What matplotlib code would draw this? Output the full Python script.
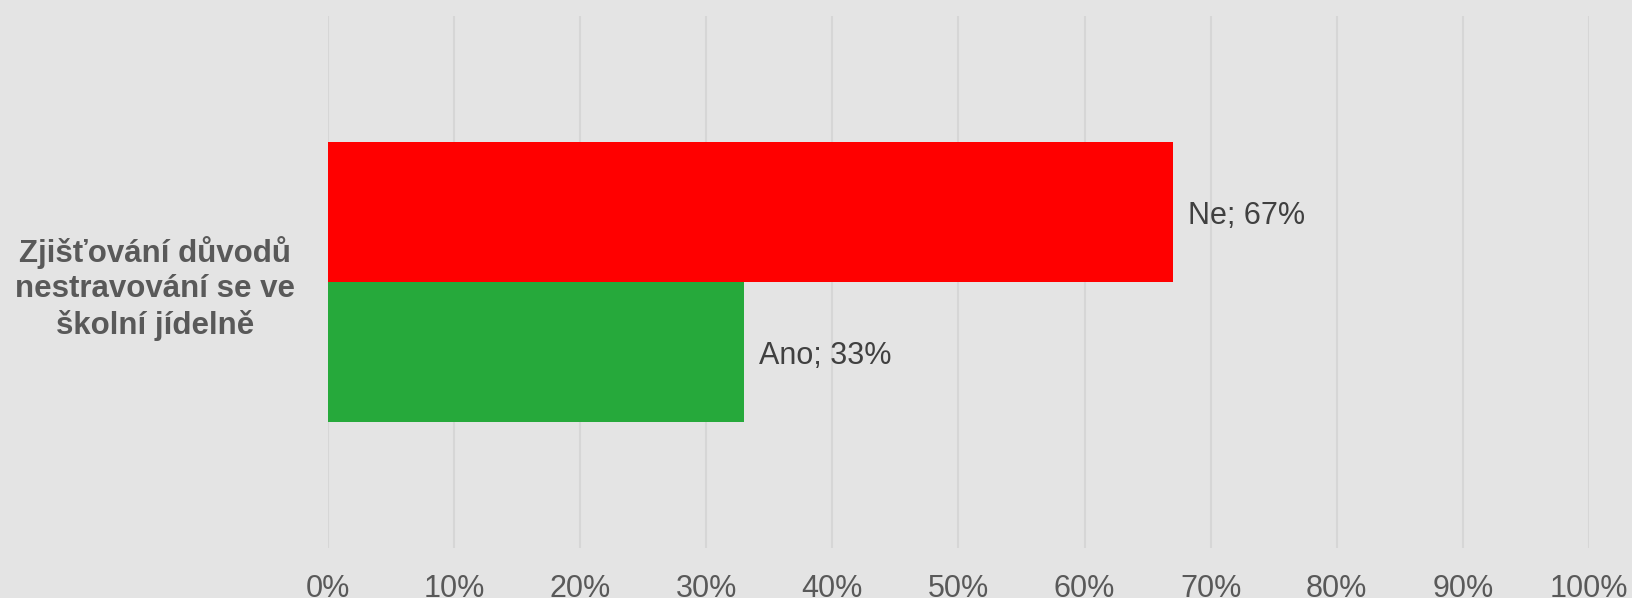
import matplotlib.pyplot as plt
import numpy as np

plt.rcParams['font.family'] = ['Liberation Sans', 'DejaVu Sans']

category = 'Zjišťování důvodů\nnestravování se ve\nškolní jídelně'
series = ['Ne', 'Ano']
values = [67, 33]
colors = ['#ff0000', '#26a93b']
xticks = np.arange(0, 101, 10)

fig = plt.figure(figsize=(16.32, 5.98), dpi=100, facecolor='#e4e4e4')
ax = fig.add_axes([0.201, 0.0836, 0.7726, 0.8896], facecolor='#e4e4e4')

h = 0.5
offsets = [h / 2, -h / 2]
for name, v, c, off in zip(series, values, colors, offsets):
    ax.barh(off, v, height=h, color=c, zorder=3)
    ax.text(v + 1.2, off, '%s; %d%%' % (name, v), va='center_baseline', ha='left',
            fontsize=22, color='#404040')

ax.set_xlim(0, 100)
ax.set_ylim(-0.95, 0.95)
ax.set_xticks(xticks)
ax.set_xticklabels(['%d%%' % t for t in xticks], fontsize=22, color='#595959')
ax.set_yticks([0])
ax.set_yticklabels([category], fontsize=22.5, fontweight='bold', color='#595959',
                   multialignment='center', linespacing=1.24)
ax.tick_params(axis='x', length=0, pad=19)
ax.tick_params(axis='y', length=0, pad=24)
ax.grid(axis='x', color='#d6d6d6', linewidth=1.5, zorder=0)
for s in ax.spines.values():
    s.set_visible(False)

fig.savefig('out.png', dpi=100, facecolor=fig.get_facecolor())
